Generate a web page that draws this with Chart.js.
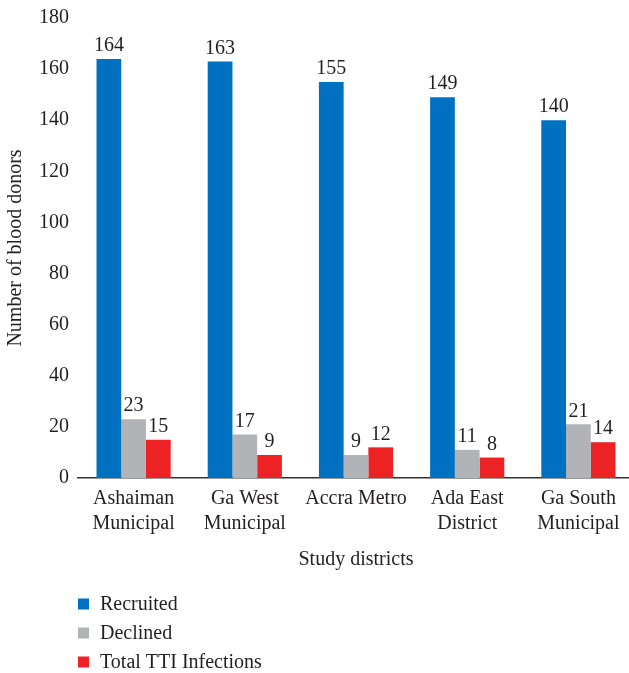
<!DOCTYPE html>
<html>
<head>
<meta charset="utf-8">
<script src="https://cdn.jsdelivr.net/npm/chart.js@4/dist/chart.umd.min.js"></script>
<style>
  html, body { margin: 0; padding: 0; background: #fff; overflow: hidden; }
  #wrap { width: 629px; height: 673px; overflow: hidden; }
  canvas { display: block; }
</style>
</head>
<body>
<div id="wrap"><canvas id="c" width="634" height="673"></canvas></div>
<script>
const categories = [["Ashaiman", "Municipal"], ["Ga West", "Municipal"], "Accra Metro", ["Ada East", "District"], ["Ga South", "Municipal"]];
const seriesNames = ["Recruited", "Declined", "Total TTI Infections"];
const recruited = [164, 163, 155, 149, 140];
const declined = [23, 17, 9, 11, 21];
const ttiInfections = [15, 9, 12, 8, 14];
const yTicks = [0, 20, 40, 60, 80, 100, 120, 140, 160, 180];

const FONT = "'Liberation Serif', 'DejaVu Serif', serif";
const FS = 20;
const TXT = '#231f20';
const colors = ['#0070C0', '#B1B3B6', '#ED2224'];

const valueLabels = {
  id: 'valueLabels',
  afterDatasetsDraw(chart) {
    const ctx = chart.ctx;
    ctx.save();
    ctx.font = FS + 'px ' + FONT;
    ctx.fillStyle = TXT;
    ctx.textAlign = 'center';
    ctx.textBaseline = 'bottom';
    chart.data.datasets.forEach((ds, di) => {
      const meta = chart.getDatasetMeta(di);
      meta.data.forEach((bar, i) => {
        ctx.fillText(String(ds.data[i]), bar.x, bar.y - 3);
      });
    });
    ctx.restore();
  }
};

const columnLegend = {
  id: 'columnLegend',
  afterDraw(chart) {
    const ctx = chart.ctx;
    ctx.save();
    ctx.font = FS + 'px ' + FONT;
    ctx.textBaseline = 'middle';
    ctx.textAlign = 'left';
    const x0 = 78, y0 = 604, step = 29, box = 11;
    chart.data.datasets.forEach((ds, i) => {
      const y = y0 + i * step;
      ctx.fillStyle = ds.backgroundColor;
      ctx.fillRect(x0, y - box / 2, box, box);
      ctx.fillStyle = TXT;
      ctx.fillText(ds.label, x0 + 22, y + 1);
    });
    ctx.restore();
  }
};

new Chart(document.getElementById('c'), {
  type: 'bar',
  data: {
    labels: categories,
    datasets: [
      { label: seriesNames[0], data: recruited, backgroundColor: colors[0] },
      { label: seriesNames[1], data: declined, backgroundColor: colors[1] },
      { label: seriesNames[2], data: ttiInfections, backgroundColor: colors[2] }
    ]
  },
  options: {
    responsive: false,
    animation: false,
    devicePixelRatio: 1,
    layout: { padding: { top: 18, right: 0, left: 0, bottom: 101 } },
    datasets: { bar: { categoryPercentage: 0.667, barPercentage: 1.0 } },
    plugins: {
      legend: { display: false },
      tooltip: { enabled: false }
    },
    scales: {
      x: {
        afterFit(scale) { scale.paddingLeft = 0; scale.paddingRight = 0; },
        grid: { display: false, drawTicks: false },
        border: { display: true, color: '#333333', width: 1.5 },
        ticks: { color: TXT, font: { family: FONT, size: FS, lineHeight: 1.25 }, padding: 8, maxRotation: 0, autoSkip: false },
        title: { display: true, text: 'Study districts', color: TXT, font: { family: FONT, size: FS }, padding: { top: 4, bottom: 0 } }
      },
      y: {
        min: 0, max: 180,
        afterBuildTicks(axis) { axis.ticks = yTicks.map(v => ({ value: v })); },
        afterFit(scale) { scale.paddingTop = 0; scale.paddingBottom = 0; },
        grid: { display: false, drawTicks: false },
        border: { display: false },
        ticks: { color: TXT, font: { family: FONT, size: FS }, padding: 9 },
        title: { display: true, text: 'Number of blood donors', color: TXT, font: { family: FONT, size: FS }, padding: { bottom: 2 } }
      }
    }
  },
  plugins: [valueLabels, columnLegend]
});
</script>
</body>
</html>
